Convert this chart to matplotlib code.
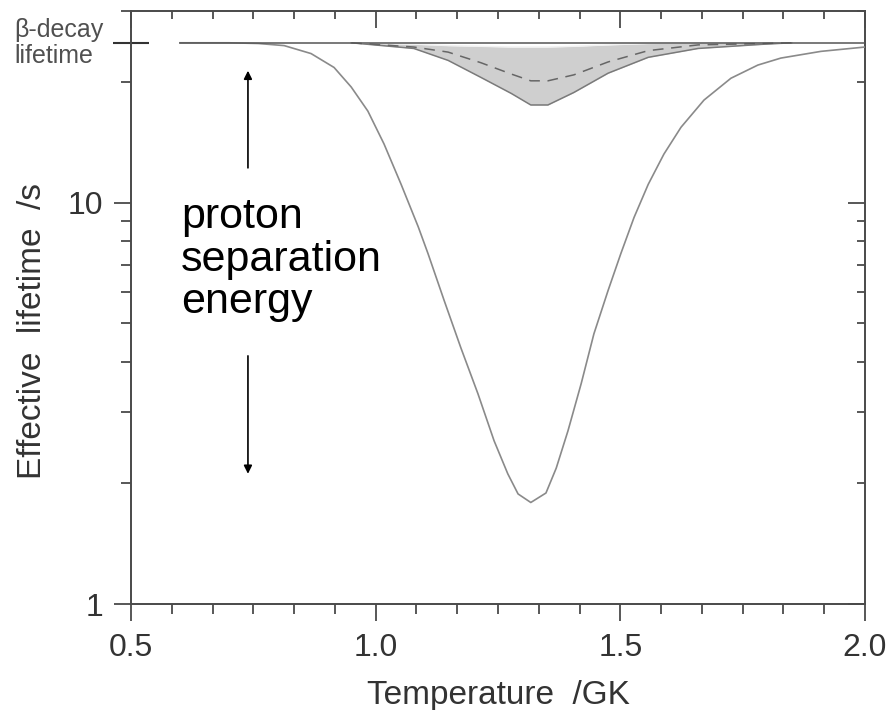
import matplotlib
matplotlib.use("Agg")
import matplotlib.pyplot as plt
from matplotlib.ticker import LogLocator, NullFormatter, FixedLocator, FixedFormatter, AutoMinorLocator
import matplotlib.transforms as mtransforms

plt.rcParams['font.family'] = ['Liberation Sans', 'DejaVu Sans']

# ---- data ----
beta_lifetime = 25.0
beta_T = [0.6, 2.0]

big_T = [0.60, 0.70, 0.76, 0.813, 0.868, 0.915, 0.950, 0.984, 1.017, 1.052, 1.087,
         1.107, 1.140, 1.174, 1.209, 1.242, 1.270, 1.291, 1.317, 1.348, 1.369, 1.393,
         1.420, 1.446, 1.475, 1.501, 1.528, 1.557, 1.589, 1.624, 1.671, 1.726, 1.781,
         1.828, 1.910, 2.0]
big_v = [25.0, 25.0, 24.9, 24.6, 23.5, 21.7, 19.4, 16.9, 14.0, 11.1, 8.70,
         7.46, 5.70, 4.35, 3.34, 2.55, 2.11, 1.88, 1.79, 1.89, 2.18, 2.70,
         3.54, 4.71, 6.04, 7.46, 9.18, 11.1, 13.2, 15.4, 18.0, 20.4, 22.0,
         22.9, 23.8, 24.4]

band_T = [0.95, 1.078, 1.148, 1.215, 1.277, 1.317, 1.352, 1.405, 1.475, 1.557, 1.659, 1.794, 1.85]
band_low = [25.0, 24.2, 22.6, 20.5, 18.7, 17.5, 17.5, 18.8, 21.0, 23.0, 24.2, 24.8, 25.0]
band_high = [25.0, 24.8, 24.6, 24.5, 24.4, 24.4, 24.4, 24.5, 24.7, 24.9, 25.0, 25.0, 25.0]
band_mid = [25.0, 24.4, 23.7, 22.3, 20.9, 20.1, 20.1, 20.8, 22.4, 23.9, 24.7, 24.9, 25.0]

x_ticks = [0.5, 1.0, 1.5, 2.0]
x_ticklabels = ['0.5', '1.0', '1.5', '2.0']
y_ticks = [1, 10]
y_ticklabels = ['1', '10']

# ---- figure ----
fig = plt.figure(figsize=(8.94, 7.10), dpi=100)
ax = fig.add_axes([131/894, 1-604/710, (865-131)/894, (604-11)/710])

spine_c = '#4a4a4a'
curve_c = '#8a8a8a'
axis_size = 23

ax.fill_between(band_T, band_low, band_high, color='#cfcfcf', lw=0, zorder=1)
ax.plot(band_T, band_low, color='#7a7a7a', lw=1.1, zorder=2)
ax.plot(band_T, band_high, color='#f2f2f2', lw=1.0, zorder=2)
ax.plot(band_T, band_mid, color='#666666', lw=1.1, dashes=(7, 5), zorder=3)
ax.plot(big_T, big_v, color=curve_c, lw=1.2, zorder=3)
ax.plot(beta_T, [beta_lifetime]*len(beta_T), color='#555555', lw=1.1, zorder=4)

ax.set_yscale('log')
ax.set_xlim(0.5, 2.0)
ax.set_ylim(1, 30)

ax.xaxis.set_major_locator(FixedLocator(x_ticks))
ax.xaxis.set_major_formatter(FixedFormatter(x_ticklabels))
ax.xaxis.set_minor_locator(AutoMinorLocator(6))
ax.yaxis.set_major_locator(FixedLocator(y_ticks))
ax.yaxis.set_major_formatter(FixedFormatter(y_ticklabels))
ax.yaxis.set_minor_locator(LogLocator(base=10, subs=range(2, 10)))
ax.yaxis.set_minor_formatter(NullFormatter())

for s in ax.spines.values():
    s.set_color(spine_c)
    s.set_linewidth(1.4)

ax.tick_params(which='both', color=spine_c, width=1.3, labelcolor='#333333',
               labelsize=axis_size, top=False, right=False)
ax.tick_params(axis='x', which='both', direction='out', pad=9)
ax.tick_params(axis='y', which='both', direction='out', pad=8)
ax.tick_params(which='major', length=12)
ax.tick_params(which='minor', length=7)

# inward ticks on top and right
axt = ax.secondary_xaxis('top')
axt.xaxis.set_major_locator(FixedLocator(x_ticks))
axt.xaxis.set_minor_locator(AutoMinorLocator(6))
axt.tick_params(which='both', direction='in', color=spine_c, width=1.3, labeltop=False)
axt.tick_params(which='major', length=12)
axt.tick_params(which='minor', length=6)
axt.spines['top'].set_visible(False)

axr = ax.secondary_yaxis('right')
axr.yaxis.set_major_locator(FixedLocator(y_ticks))
axr.yaxis.set_minor_locator(LogLocator(base=10, subs=range(2, 10)))
axr.yaxis.set_minor_formatter(NullFormatter())
axr.tick_params(which='both', direction='in', color=spine_c, width=1.3, labelright=False)
axr.tick_params(which='major', length=12)
axr.tick_params(which='minor', length=6)
axr.spines['right'].set_visible(False)

# beta-decay tick on left (crossing axis)
axb = ax.secondary_yaxis('left')
axb.yaxis.set_major_locator(FixedLocator([beta_lifetime]))
axb.yaxis.set_minor_locator(FixedLocator([]))
axb.tick_params(which='major', direction='inout', length=26, width=1.5, color='#333333', labelleft=False)
axb.spines['left'].set_visible(False)

trans = mtransforms.blended_transform_factory(fig.transFigure, ax.transData)
ax.text(14/894, beta_lifetime, 'β-decay\nlifetime', transform=trans, ha='left', va='center',
        multialignment='left', fontsize=18, color='#505050', linespacing=1.12)

ax.set_xlabel('Temperature  /GK', fontsize=24, color='#333333', labelpad=12)
ax.set_ylabel('Effective  lifetime  /s', fontsize=24, color='#333333', labelpad=14)
ax.yaxis.label.set_y(0.461)

# annotation
ax.text(0.602, 7.2, 'proton\nseparation\nenergy', fontsize=31, color='black',
        ha='left', va='center', linespacing=1.08)
ax.annotate('', xy=(0.739, 21.3), xytext=(0.739, 12.2),
            arrowprops=dict(arrowstyle='-|>', color='black', lw=1.2, mutation_scale=12, shrinkA=0, shrinkB=0))
ax.annotate('', xy=(0.739, 2.11), xytext=(0.739, 4.15),
            arrowprops=dict(arrowstyle='-|>', color='black', lw=1.2, mutation_scale=12, shrinkA=0, shrinkB=0))

fig.savefig('out.png', dpi=100)
